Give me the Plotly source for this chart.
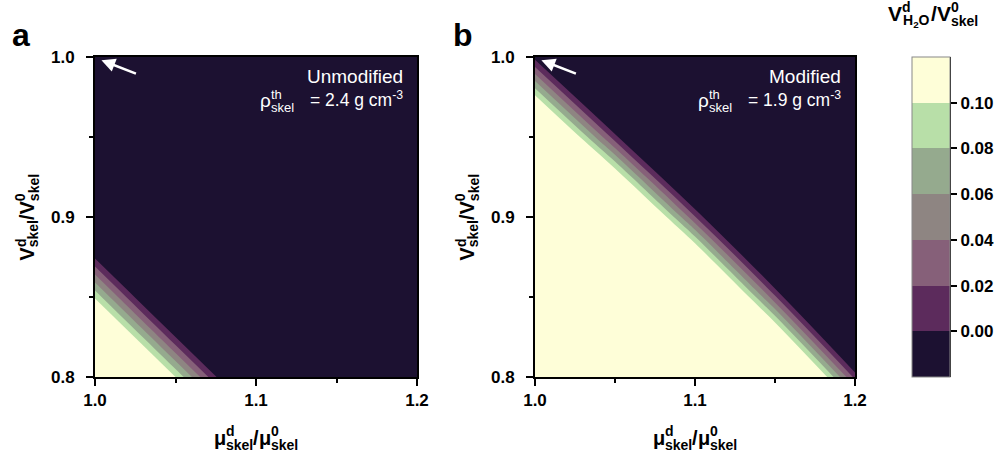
import re
import plotly.graph_objects as go

# Grid of normalised skeletal mass (columns) and skeletal volume (rows)
mu_ratio = [1.00, 1.05, 1.10, 1.15, 1.20]
v_ratio = [0.80, 0.85, 0.90, 0.95, 1.00]

# Normalised water volume V_H2O^d / V_skel^0 on that grid
water_unmodified = [
    [0.296, 0.100, -0.096, -0.292, -0.488],
    [0.096, -0.100, -0.296, -0.492, -0.688],
    [-0.104, -0.300, -0.496, -0.692, -0.888],
    [-0.304, -0.500, -0.696, -0.892, -1.088],
    [-0.504, -0.700, -0.896, -1.092, -1.288],
]
water_modified = [
    [1.013, 0.763, 0.513, 0.263, 0.013],
    [0.729, 0.494, 0.259, 0.024, -0.212],
    [0.462, 0.242, 0.022, -0.198, -0.418],
    [0.218, 0.008, -0.202, -0.412, -0.622],
    [-0.008, -0.208, -0.408, -0.608, -0.808],
]

levels = [0.00, 0.02, 0.04, 0.06, 0.08, 0.10]
level_labels = ["0.00", "0.02", "0.04", "0.06", "0.08", "0.10"]
band_colors = ["#1c1131", "#5c2b5c", "#866079", "#8e8582",
               "#95aa8e", "#b8dfa8", "#fefed8"]

x_ticks = [1.0, 1.1, 1.2]
y_ticks = [0.8, 0.9, 1.0]
densities = ["2.4", "1.9"]
panel_names = ["Unmodified", "Modified"]
panel_letters = ["a", "b"]

W, H = 1003, 452
FONT = "Liberation Sans, Arial, sans-serif"


def px(x):
    return x / W


def py(y):
    return 1 - y / H


# step colour scale: one flat colour per contour band
step = levels[1] - levels[0]
zlo, zhi = levels[0] - step, levels[-1] + step
n = len(band_colors)
colorscale = []
for i, c in enumerate(band_colors):
    colorscale.append([i / n, c])
    colorscale.append([(i + 1) / n, c])

fig = go.Figure()
for k, z in enumerate([water_unmodified, water_modified]):
    sfx = "" if k == 0 else "2"
    fig.add_trace(go.Contour(
        x=mu_ratio, y=v_ratio, z=z,
        xaxis="x" + sfx, yaxis="y" + sfx,
        zmin=zlo, zmax=zhi, zauto=False,
        colorscale=colorscale,
        contours=dict(start=levels[0], end=levels[-1], size=step,
                      coloring="fill", showlines=False),
        line=dict(width=0),
        showscale=(k == 1),
        colorbar=dict(
            thicknessmode="pixels", thickness=38,
            lenmode="pixels", len=320,
            x=px(912), xanchor="left", xpad=0,
            y=py(377), yanchor="bottom", ypad=0,
            outlinecolor="#888888", outlinewidth=1,
            tickvals=levels, ticktext=level_labels,
            ticks="outside", ticklen=7, tickwidth=2, tickcolor="black",
            tickfont=dict(family=FONT, size=17, color="black", weight="bold"),
        ),
        hoverinfo="skip",
    ))

axis_common = dict(
    showline=True, linecolor="black", linewidth=2, mirror=True,
    ticks="outside", ticklen=7, tickwidth=2, tickcolor="black",
    showgrid=False, zeroline=False,
    tickfont=dict(family=FONT, size=17, color="black", weight="bold"),
    minor=dict(ticks="outside", ticklen=4, tickwidth=2, tickcolor="black",
               dtick=0.05, showgrid=False),
)
xd = [[px(95), px(417)], [px(535), px(855)]]
yd = [py(377), py(57)]
layout_axes = {}
for k in range(2):
    sfx = "" if k == 0 else "2"
    layout_axes["xaxis" + sfx] = dict(
        axis_common, domain=xd[k], range=[1.0, 1.2], anchor="y" + sfx,
        tickvals=x_ticks, ticktext=[f"{v:.1f}" for v in x_ticks])
    layout_axes["yaxis" + sfx] = dict(
        axis_common, domain=yd, range=[0.8, 1.0], anchor="x" + sfx,
        tickvals=y_ticks, ticktext=[f"{v:.1f}" for v in y_ticks],
        ticklabelstandoff=8)

fig.update_layout(
    width=W, height=H,
    margin=dict(l=0, r=0, t=0, b=0, pad=0, autoexpand=False),
    paper_bgcolor="white", plot_bgcolor="white", showlegend=False,
    font=dict(family=FONT, color="black"),
    **layout_axes,
)

# black axis line along the labelled side of the colour bar
fig.add_shape(type="line", xref="paper", yref="paper",
              x0=px(950), x1=px(950), y0=py(377), y1=py(57),
              line=dict(color="black", width=2))

# approximate advance widths (em) for Arial-metric fonts
BOLD_W = {"μ": .611, "V": .667, "/": .278, "d": .611, "s": .556, "k": .556,
          "e": .556, "l": .278, "0": .556, "H": .722, "2": .556, "O": .778}
REG_W = {"ρ": .578, "t": .278, "h": .556, "s": .5, "k": .5, "e": .556,
         "l": .222, "=": .584, " ": .278, ".": .278, "g": .556, "c": .5,
         "m": .833}


def text_w(s, size, table):
    plain = re.sub(r"<[^>]+>", "", s)
    return sum(table.get(c, .556) for c in plain) * size


annotations = []


def scripted(parts, center, base, size, small, bold=True, color="black",
             vertical=False, anchor_end=None):
    """Lay out text with stacked super/subscripts.

    parts: ("t", text) for full-size pieces, ("s", sup, sub) for a stacked
    super/subscript pair. 'base' is the baseline position across the text
    direction and 'center' the midpoint along it (or the end: anchor_end).
    Vertical text runs bottom-to-top.
    """
    table = BOLD_W if bold else REG_W
    widths = []
    for p in parts:
        if p[0] == "t":
            widths.append(text_w(p[1], size, table))
        else:
            widths.append(max(text_w(p[1], small, table),
                              text_w(p[2], small, table)))
    total = sum(widths)
    if anchor_end is not None:
        start = anchor_end - total
    else:
        start = -total / 2
    u = start
    for p, w in zip(parts, widths):
        if p[0] == "t":
            pieces = [(p[1], size, u + w / 2, 0.35 * size)]
        else:
            ws = text_w(p[1], small, table)
            wb = text_w(p[2], small, table)
            pieces = [(p[1], small, u + ws / 2, 0.44 * size + 0.35 * small),
                      (p[2], small, u + wb / 2, -0.24 * size + 0.35 * small)]
        for txt, sz, uc, vc in pieces:
            if vertical:
                xs, ys, ang = base - vc, center - uc, -90
            elif anchor_end is not None:
                xs, ys, ang = uc, base - vc, 0
            else:
                xs, ys, ang = center + uc, base - vc, 0
            annotations.append(dict(
                text=txt, x=px(xs), y=py(ys), xref="paper", yref="paper",
                xanchor="center", yanchor="middle", showarrow=False,
                textangle=ang, borderpad=0,
                font=dict(family=FONT, size=sz, color=color,
                          weight="bold" if bold else "normal")))
        u += w


x_title = [("t", "μ"), ("s", "d", "skel"), ("t", "/"), ("t", "μ"),
           ("s", "0", "skel")]
y_title = [("t", "V"), ("s", "d", "skel"), ("t", "/"), ("t", "V"),
           ("s", "0", "skel")]
cb_title = [("t", "V"), ("s", "d", "H<sub>2</sub>O"), ("t", "/"), ("t", "V"),
            ("s", "0", "skel")]

for cx in [256, 695]:
    scripted(x_title, cx, 445, 20, 14)

# vertical titles, centred on the plot height
for bx in [34, 474]:
    scripted(y_title, 217, bx, 20, 14, vertical=True)

scripted(cb_title, 933, 21, 21, 14)

# panel descriptions
for k, right in enumerate([404, 842]):
    annotations.append(dict(
        text=panel_names[k], x=px(right), y=py(84), xref="paper",
        yref="paper", xanchor="right", yanchor="bottom", showarrow=False,
        borderpad=0, yshift=-4,
        font=dict(family=FONT, size=19, color="white")))
    tail = f"= {densities[k]} g cm<sup>-3</sup>"
    annotations.append(dict(
        text=tail, x=px(right), y=py(107), xref="paper", yref="paper",
        xanchor="right", yanchor="bottom", showarrow=False, borderpad=0,
        yshift=-4, font=dict(family=FONT, size=17.5, color="white")))
    scripted([("t", "ρ"), ("s", "th", "skel")], 0, 107, 19, 13, bold=False,
             color="white", anchor_end=right - 110)

for k, lx in enumerate([21, 463]):
    annotations.append(dict(
        text=panel_letters[k], x=px(lx), y=py(35), xref="paper",
        yref="paper", xanchor="center", yanchor="middle", showarrow=False,
        font=dict(family=FONT, size=32, color="black", weight="bold")))

# arrows pointing at the upper-left corner of each map
for k in range(2):
    sfx = "" if k == 0 else "2"
    annotations.append(dict(
        x=1.004, y=0.998, xref="x" + sfx, yref="y" + sfx, text="",
        showarrow=True, ax=36, ay=14, axref="pixel", ayref="pixel",
        arrowcolor="white", arrowwidth=2.5, arrowhead=2, arrowsize=1.1))

fig.update_layout(annotations=annotations)
fig.write_html("out.html")
